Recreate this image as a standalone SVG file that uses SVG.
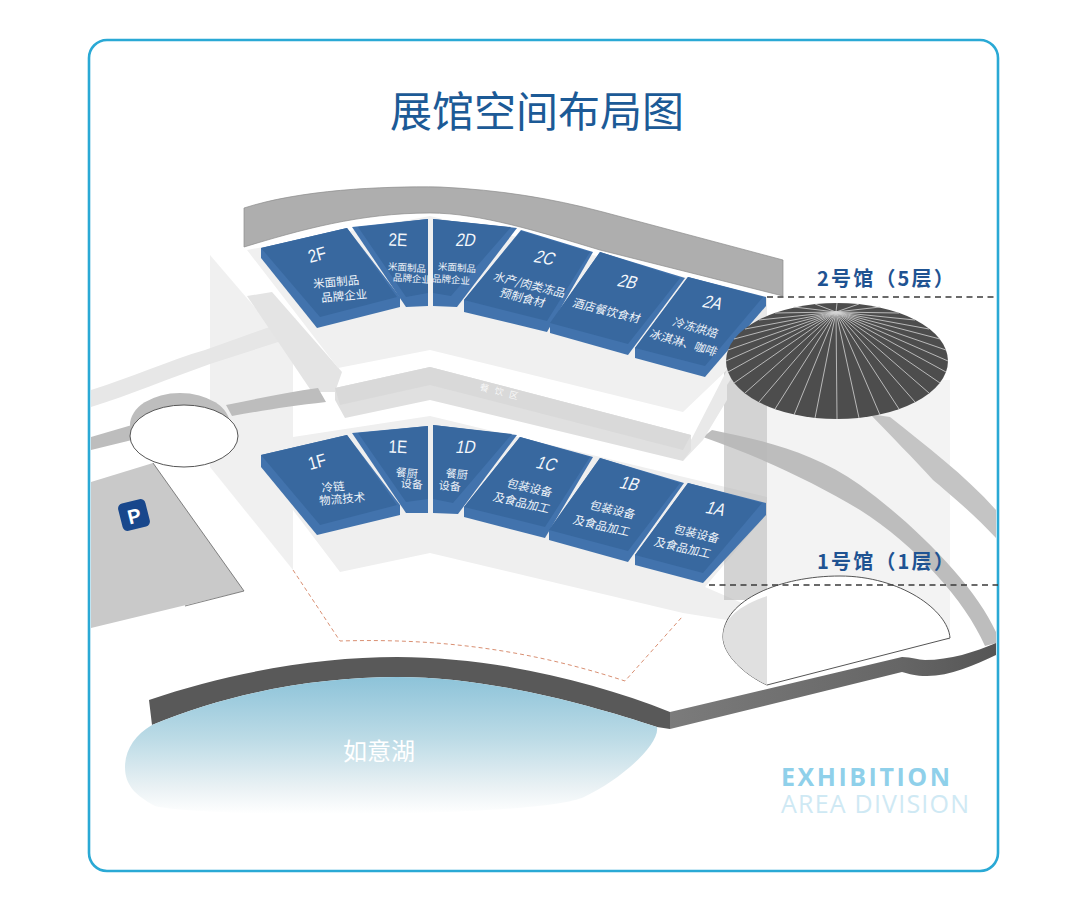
<svg xmlns="http://www.w3.org/2000/svg" width="1080" height="903" viewBox="0 0 1080 903">
<style>
text{font-family:"Noto Sans CJK SC","Noto Sans",sans-serif}
.side{fill:#4273ad}
.face{fill:#38689f}
.id{font-family:"Liberation Sans",sans-serif;font-size:18px;fill:#f4f7fb;text-anchor:middle;dominant-baseline:central}
.t{font-size:11.5px;fill:#eef3f9;text-anchor:middle;dominant-baseline:central}
.s{font-size:9.5px}
.hall{font-size:20px;font-weight:700;fill:#1f5392;dominant-baseline:central;letter-spacing:2.2px}
.dash{fill:none;stroke:#3a3a3a;stroke-width:1.4;stroke-dasharray:6 4.5}
</style>
<defs>
<linearGradient id="lake" x1="0" y1="0" x2="0" y2="1"><stop offset="0" stop-color="#8dc3d9"/><stop offset=".45" stop-color="#bcdbe6"/><stop offset=".8" stop-color="#e9f1f4"/><stop offset="1" stop-color="#fff"/></linearGradient>
<linearGradient id="edge" x1="0" y1="0" x2="1" y2="0"><stop offset="0" stop-color="#7b7b7b"/><stop offset=".7" stop-color="#666"/><stop offset="1" stop-color="#555"/></linearGradient>
</defs>
<rect width="1080" height="903" fill="#fff"/>
<rect id="frame" x="89" y="40" width="909" height="831" rx="18" fill="#fff" stroke="#2aa9d5" stroke-width="2.6"/>
<text id="title" x="537" y="108" font-size="42" font-weight="400" fill="#1c5a96" text-anchor="middle" dominant-baseline="central">展馆空间布局图</text>

<g id="ground">
<path d="M91,390C130,378 170,360 205,350L295,318L300,335L210,364C170,378 130,395 91,407Z" fill="#e7e7e7"/>
<polygon points="210,255 293,352 293,570 210,467" fill="#e6e6e6" opacity=".58"/>
<polygon points="247,296 272,292 342,372 335,392 312,392" fill="#e4e4e4"/>
<path d="M91,437L132,425L132,440L91,450Z" fill="#bdbdbd"/>
<path d="M226,405C260,398 290,392 318,388L326,402C290,406 260,411 232,416Z" fill="#bdbdbd"/>
<ellipse cx="180" cy="425" rx="50" ry="32" fill="#bdbdbd"/>
<ellipse cx="184" cy="436" rx="54" ry="31" fill="#fff" stroke="#555" stroke-width="1"/>
<polygon points="91,482 153,463 244,591 91,628" fill="#c9c9c9"/>
<line x1="153" y1="463" x2="244" y2="591" stroke="#666" stroke-width=".8"/>
<line x1="185" y1="606" x2="244" y2="591" stroke="#666" stroke-width=".8"/>
<g id="parking" transform="translate(134,515) rotate(-14)"><rect x="-14" y="-14" width="28" height="28" rx="5" fill="#18478c"/><text y="1" font-size="20" font-weight="700" fill="#fff" text-anchor="middle" dominant-baseline="central" style="font-family:'Liberation Sans',sans-serif">P</text></g>
<rect x="767" y="380" width="183" height="260" fill="#f3f3f3"/>
<path d="M870,414L890,417C925,445 965,475 996,510L996,538C975,515 945,490 933,480C915,460 890,435 870,414Z" fill="#c4c4c4"/>
<path d="M703,437L712,430C760,440 810,450 860,485C915,525 975,585 996,632L996,643L985,646C965,600 915,545 860,510C810,480 755,455 703,437Z" fill="#bdbdbd"/>
<path d="M670,712L902,657C912,657 918,660 925,660C950,660 975,652 996,643L996,655C975,665 950,676 927,676C915,676 910,674 902,672L670,729Z" fill="url(#edge)"/>
</g>

<g id="floor-1-slab">
<polygon points="293,437 430,416 767,497 766,515 705,587 742,603 727,620 683,613 430,553 340,572 293,510" fill="#efefef"/>
<rect x="724" y="360" width="43" height="240" fill="#b8b8b8" opacity=".62"/>
</g>

<g id="floor-2-slab">
<polygon points="727,370 767,297 767,325 727,385 727,400 703,440 683,461 691,440" fill="#e9e9e9"/>
<polygon points="335,388 430,367 691,435 691,450 683,461 430,400 345,418 335,400" fill="#e0e0e0"/>
<polygon points="335,388 430,367 691,435 683,450 430,385 340,405" fill="#d9d9d9"/>
<polygon points="247,250 430,216 767,297 727,370 683,412 430,350 338,368" fill="#f0f0f0"/>
<text transform="translate(502,392) rotate(14)" font-size="9" fill="#f7f7f7" letter-spacing="6" text-anchor="middle" dominant-baseline="central">餐饮区</text>
</g>

<path id="wall" d="M244,208C300,190 380,186 440,187C500,190 550,198 603,212L783,260L783,296L600,250C540,232 480,213 430,213C360,213 300,230 244,247Z" fill="#aeaeae" stroke="#8d8d8d" stroke-width=".7"/>

<g id="tile-2F"><polygon class="side" points="261,248 347,228 400,297 400,307 317,328 261,258"/><polygon class="face" points="261,248 347,228 397,297 320,317"/><text class="id" transform="translate(317,255) rotate(-15) scale(.85,1)">2F</text><text class="t" transform="translate(336,281) rotate(-5)">米面制品</text><text class="t" transform="translate(344,295) rotate(-5)">品牌企业</text></g>
<g id="tile-2E"><polygon class="side" points="352,227 428,219 428,306 406,307"/><polygon class="face" points="358,227 428,219 428,293 406,297"/><text class="id" transform="translate(398,240) rotate(3) scale(.85,1)">2E</text><text class="t s" transform="translate(407,267) rotate(4)">米面制品</text><text class="t s" transform="translate(412,278) rotate(4)">品牌企业</text></g>
<g id="tile-2D"><polygon class="side" points="433,219 517,228 457,307 433,306"/><polygon class="face" points="433,219 511,227 451,296 433,293"/><text class="id" transform="translate(466,240) rotate(0) skewX(-12) scale(.85,1)">2D</text><text class="t s" transform="translate(457,267) rotate(4)">米面制品</text><text class="t s" transform="translate(451,279) rotate(4)">品牌企业</text></g>
<g id="tile-2C"><polygon class="side" points="521,230 593,252 547,332 464,312 464,300"/><polygon class="face" points="521,231 590,252 547,321 464,300"/><text class="id" transform="translate(545,258) rotate(10) skewX(-15) scale(.85,1)">2C</text><text class="t" transform="translate(530,284) rotate(14) skewX(-8)">水产/肉类冻品</text><text class="t" transform="translate(523,297) rotate(14) skewX(-8)">预制食材</text></g>
<g id="tile-2B"><polygon class="side" points="600,252 685,278 628,355 550,333 550,323"/><polygon class="face" points="600,252 680,278 628,344 550,323"/><text class="id" transform="translate(628,282) rotate(10) skewX(-15) scale(.85,1)">2B</text><text class="t" transform="translate(607,310) rotate(14) skewX(-8)">酒店餐饮食材</text></g>
<g id="tile-2A"><polygon class="side" points="688,277 766,297 766,306 705,377 635,358 635,348"/><polygon class="face" points="688,277 763,297 705,366 635,348"/><text class="id" transform="translate(713,303) rotate(10) skewX(-15) scale(.85,1)">2A</text><text class="t" transform="translate(696,327) rotate(16) skewX(-8)">冷冻烘焙</text><text class="t" transform="translate(684,342) rotate(16) skewX(-8)">冰淇淋、咖啡</text></g>

<g id="tile-1F"><polygon class="side" points="261,455 347,435 400,505 400,515 317,535 261,467"/><polygon class="face" points="261,455 347,435 397,505 320,525"/><text class="id" transform="translate(317,462) rotate(-15) scale(.85,1)">1F</text><text class="t" transform="translate(333,486) rotate(-5)">冷链</text><text class="t" transform="translate(342,498) rotate(-5)">物流技术</text></g>
<g id="tile-1E"><polygon class="side" points="352,433 428,426 428,513 406,513"/><polygon class="face" points="358,433 428,426 428,499 406,502"/><text class="id" transform="translate(398,447) rotate(3) scale(.85,1)">1E</text><text class="t" style="font-size:11px" transform="translate(407,472) rotate(5)">餐厨</text><text class="t" style="font-size:11px" transform="translate(412,483) rotate(5)">设备</text></g>
<g id="tile-1D"><polygon class="side" points="433,425 517,435 458,514 433,513"/><polygon class="face" points="433,425 512,434 453,503 433,499"/><text class="id" transform="translate(466,447) skewX(-12) scale(.85,1)">1D</text><text class="t" style="font-size:11px" transform="translate(457,473) rotate(5)">餐厨</text><text class="t" style="font-size:11px" transform="translate(450,485) rotate(5)">设备</text></g>
<g id="tile-1C"><polygon class="side" points="520,437 593,457 545,538 464,517 464,507"/><polygon class="face" points="520,437 590,457 545,527 464,507"/><text class="id" transform="translate(547,464) rotate(10) skewX(-15) scale(.85,1)">1C</text><text class="t" transform="translate(530,487) rotate(13) skewX(-8)">包装设备</text><text class="t" transform="translate(522,502) rotate(13) skewX(-8)">及食品加工</text></g>
<g id="tile-1B"><polygon class="side" points="600,458 684,483 628,562 549,540 549,530"/><polygon class="face" points="600,458 680,483 628,551 549,530"/><text class="id" transform="translate(630,484) rotate(10) skewX(-15) scale(.85,1)">1B</text><text class="t" transform="translate(613,509) rotate(13) skewX(-8)">包装设备</text><text class="t" transform="translate(602,525) rotate(13) skewX(-8)">及食品加工</text></g>
<g id="tile-1A"><polygon class="side" points="688,483 766,503 766,515 703,583 635,565 635,555"/><polygon class="face" points="688,483 762,503 703,573 635,555"/><text class="id" transform="translate(716,509) rotate(10) skewX(-15) scale(.85,1)">1A</text><text class="t" transform="translate(697,533) rotate(13) skewX(-8)">包装设备</text><text class="t" transform="translate(683,547) rotate(13) skewX(-8)">及食品加工</text></g>

<g id="hall-2-dome">
<ellipse cx="837" cy="361" rx="111" ry="58" fill="#4d4d4d"/>
<path fill="none" stroke="#d4d4d4" stroke-width=".8" d="M836,312L948,361M836,312L946,372M836,312L940,383M836,312L929,393M836,312L915,402M836,312L899,409M836,312L880,415M836,312L859,418M836,312L837,419M836,312L815,418M836,312L794,415M836,312L775,409M836,312L759,402M836,312L745,393M836,312L734,383M836,312L728,372M836,312L726,361M836,312L728,350M836,312L734,339M836,312L745,329M836,312L759,320M836,312L775,313M836,312L794,307M836,312L815,304M836,312L837,303M836,312L859,304M836,312L880,307M836,312L899,313M836,312L915,320M836,312L929,329M836,312L940,339M836,312L946,350"/>
</g>

<g id="hall-1-footprint">
<path d="M767,685C745,675 723,655 723,637C723,600 780,576 840,576C900,576 948,610 950,638Z" fill="#fff" stroke="#555" stroke-width="1"/>
<path d="M767,685C745,675 723,655 723,637C723,622 733,608 767,596Z" fill="#e0e0e0"/>
</g>

<g id="connectors">
<path class="dash" d="M767,297H998"/>
<path class="dash" d="M709,585H998"/>
<path d="M293,570L340,641C440,638 530,650 625,681L682,617" fill="none" stroke="#d98f72" stroke-width="1" stroke-dasharray="4 3"/>
</g>

<text id="label-hall-2" class="hall" x="817" y="277">2号馆（5层）</text>
<text id="label-hall-1" class="hall" x="817" y="560">1号馆（1层）</text>

<g id="lake-group">
<path d="M149,700C230,672 320,657 397,657C490,657 590,680 670,712L670,729L657,727C590,705 490,677 397,677C320,677 230,692 152,725Z" fill="#595959"/>
<path d="M152,725C230,692 320,677 397,677C490,677 590,705 657,727C660,745 620,780 584,797C540,818 200,818 155,806C135,795 125,785 125,767C125,750 135,735 152,725Z" fill="url(#lake)"/>
<text x="379" y="749" font-size="24" fill="#fff" text-anchor="middle" dominant-baseline="central">如意湖</text>
</g>

<text id="en-1" x="781" y="786" font-size="25" font-weight="700" fill="#8fd0ea" textLength="169" lengthAdjust="spacing" style="font-family:'Open Sans',sans-serif">EXHIBITION</text>
<text id="en-2" x="781" y="813" font-size="25" fill="#cfe9f4" textLength="188" lengthAdjust="spacing" style="font-family:'Open Sans',sans-serif">AREA DIVISION</text>
</svg>
